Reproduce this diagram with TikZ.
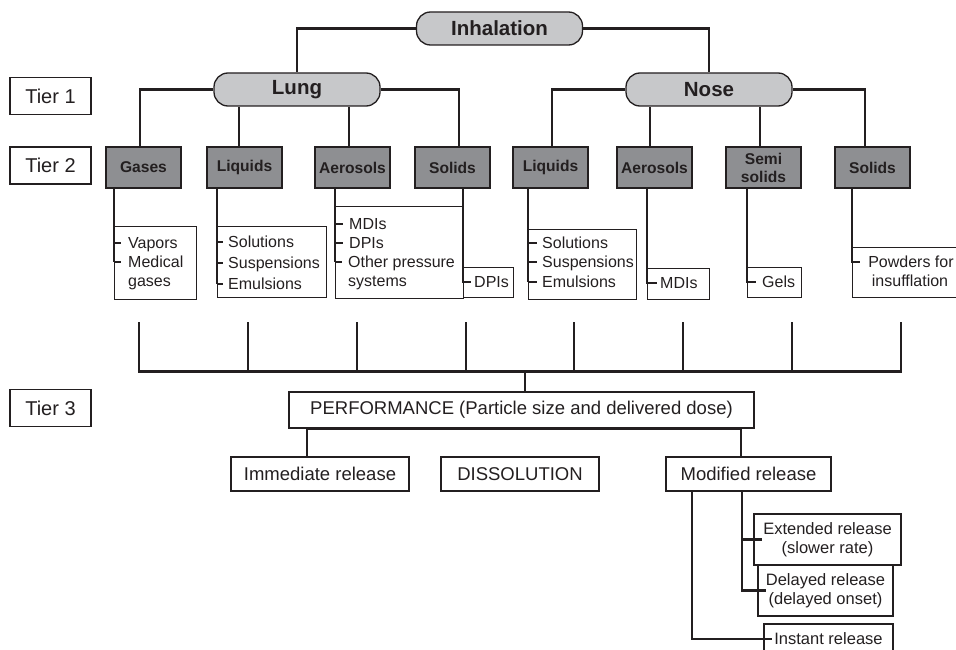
\documentclass[tikz,border=0pt]{standalone}
\usepackage{fontspec}
\setmainfont{Liberation Sans}
\usetikzlibrary{calc}
\definecolor{ink}{HTML}{231F20}
\definecolor{pillgray}{HTML}{C7C8CA}
\definecolor{boxgray}{HTML}{8E8F92}
\begin{document}
\begin{tikzpicture}[x=1pt,y=-1pt,
  pill/.style={draw=ink, line width=1.3pt, fill=pillgray, rounded corners=14pt, minimum width=166pt, minimum height=33pt, inner sep=0pt, font=\fontsize{20.5}{24}\selectfont\bfseries, text=ink},
  cat/.style={draw=ink, line width=1.2pt, fill=boxgray, minimum width=75pt, minimum height=41pt, inner sep=0pt, font=\fontsize{15.6}{18}\selectfont\bfseries, text=ink, align=center},
  tier/.style={draw=ink, line width=1.2pt, minimum width=81pt, minimum height=37pt, inner sep=0pt, font=\fontsize{20}{24}\selectfont, text=ink},
  sub/.style={draw=ink, line width=1.1pt, inner sep=0pt, anchor=north west},
  item/.style={anchor=west, inner sep=0pt, text height=12pt, text depth=1pt, font=\fontsize{16}{19}\selectfont, text=ink},
  conn/.style={draw=ink, line width=2.5pt},
  busline/.style={draw=ink, line width=3pt},
  perf/.style={draw=ink, line width=1.3pt, inner sep=0pt, font=\fontsize{18.5}{22}\selectfont, text=ink},
  rel/.style={draw=ink, line width=1.3pt, inner sep=0pt, font=\fontsize{16.5}{19}\selectfont, text=ink, align=center},
]
\useasboundingbox (0,0) rectangle (956,650);

% Tier labels
\node[tier] (t1) at (50.5,96) {Tier 1};
\node[tier] (t2) at (50.5,165.5) {Tier 2};
\node[tier] (t3) at (50.5,408) {Tier 3};

% tree connectors (drawn first so boxes sit on top)
\node[pill] (inh) at (499.5,28.5) {Inhalation};
\node[pill] (lung) at (297,89.5) {Lung};
\node[pill] (nose) at (709,89.5) {Nose};

\node[cat] (gas) at (143.5,167.5) {Gases};
\node[cat] (lliq) at (244.5,167.5) {Liquids};
\node[cat] (laer) at (352.5,167.5) {Aerosols};
\node[cat] (lsol) at (452.5,167.5) {Solids};
\node[cat] (nliq) at (550.5,167.5) {Liquids};
\node[cat] (naer) at (654.5,167.5) {Aerosols};
\node[cat] (semi) at (763.5,167.5) {Semi\\solids};
\node[cat] (nsol) at (872.5,167.5) {Solids};

\draw[conn] (inh.west) -| (lung.north);
\draw[conn] (inh.east) -| (nose.north);
\draw[conn] (lung.west) -| ([xshift=-3.5pt]gas.north);
\draw[conn] (lung.east) -| ([xshift=6.5pt]lsol.north);
\draw[conn] ([xshift=-5.5pt]lliq.north) -- ([xshift=-5.5pt]lliq.north |- lung.south);
\draw[conn] ([xshift=-3.5pt]laer.north) -- ([xshift=-3.5pt]laer.north |- lung.south);
\draw[conn] (nose.west) -| ([xshift=1.5pt]nliq.north);
\draw[conn] (nose.east) -| ([xshift=-7.5pt]nsol.north);
\draw[conn] ([xshift=-4.5pt]naer.north) -- ([xshift=-4.5pt]naer.north |- nose.south);
\draw[conn] ([xshift=-3.5pt]semi.north) -- ([xshift=-3.5pt]semi.north |- nose.south);

% sub boxes
\node[sub, minimum width=82pt, minimum height=73pt] (gsub) at (114,226) {};
\node[item] (g1) at (128,243) {Vapors};
\node[item] (g2) at (128,262) {Medical};
\node[item] (g3) at (128,281) {gases};
\draw[conn] (gas.south -| gsub.west) -- (gsub.west |- g2.west);
\draw[conn] (gsub.west |- g1.west) -- ++(7,0);
\draw[conn] (gsub.west |- g2.west) -- ++(7,0);

\node[sub, minimum width=109pt, minimum height=71pt] (lsub) at (217,226) {};
\node[item] (l1) at (228,242) {Solutions};
\node[item] (l2) at (228,263) {Suspensions};
\node[item] (l3) at (228,284) {Emulsions};
\draw[conn] (lliq.south -| lsub.west) -- (lsub.west |- l3.west);
\draw[conn] (lsub.west |- l1.west) -- ++(6,0);
\draw[conn] (lsub.west |- l2.west) -- ++(6,0);
\draw[conn] (lsub.west |- l3.west) -- ++(6,0);

\node[sub, minimum width=128pt, minimum height=92pt] (asub) at (335,206) {};
\node[item] (a1) at (349,224) {MDIs};
\node[item] (a2) at (349,243) {DPIs};
\node[item] (a3) at (348,262) {Other pressure};
\node[item] (a4) at (348,281) {systems};
\draw[conn] (laer.south -| asub.west) -- (asub.west |- a3.west);
\draw[conn] (asub.west |- a1.west) -- ++(8,0);
\draw[conn] (asub.west |- a2.west) -- ++(8,0);
\draw[conn] (asub.west |- a3.west) -- ++(7,0);

\node[sub, minimum width=50pt, minimum height=30pt] (dsub) at (463,267) {};
\node[item] (d1) at (474,282) {DPIs};
\draw[conn] (lsol.south -| dsub.west) -- (dsub.west |- d1.west) -- ++(8,0);

\node[sub, minimum width=108pt, minimum height=70pt] (nlsub) at (528,229) {};
\node[item] (n1) at (542,243) {Solutions};
\node[item] (n2) at (542,262) {Suspensions};
\node[item] (n3) at (542,282) {Emulsions};
\draw[conn] (nliq.south -| nlsub.west) -- (nlsub.west |- n3.west);
\draw[conn] (nlsub.west |- n1.west) -- ++(9,0);
\draw[conn] (nlsub.west |- n2.west) -- ++(9,0);
\draw[conn] (nlsub.west |- n3.west) -- ++(9,0);

\node[sub, minimum width=62pt, minimum height=31pt] (nasub) at (647,268) {};
\node[item] (m1) at (660,283) {MDIs};
\draw[conn] (naer.south -| nasub.west) -- (nasub.west |- m1.west) -- ++(10,0);

\node[sub, minimum width=54pt, minimum height=30pt] (ssub) at (747,267) {};
\node[item] (s1) at (762,282) {Gels};
\draw[conn] (semi.south -| ssub.west) -- (ssub.west |- s1.west) -- ++(9,0);

\node[sub, minimum width=114pt, minimum height=50pt] (nssub) at (852,247) {};
\node[item, anchor=center] (p1) at (911,262) {Powders for};
\node[item, anchor=center] (p2) at (910,281) {insufflation};
\draw[conn] (nsol.south -| nssub.west) -- (nssub.west |- p1.west) -- ++(8,0);

% bus
\foreach \x [count=\i] in {139,248,357,466,574,683,792,901} {
  \coordinate (bt\i) at (\x,322);
  \coordinate (bb\i) at (\x,371);
  \draw[conn] (bt\i) -- (bb\i);
}
\draw[busline] ([xshift=-1.2pt]bb1) -- ([xshift=1.2pt]bb8);

% Tier 3
\node[perf, minimum width=465pt, minimum height=36pt] (perf) at (521.5,410) {PERFORMANCE (Particle size and delivered dose)};
\coordinate (busmid) at (525,371);
\draw[conn] (busmid) -- (busmid |- perf.north);

\node[perf, minimum width=178pt, minimum height=34pt] (imm) at (320,474) {Immediate release};
\node[perf, minimum width=158pt, minimum height=34pt] (diss) at (520,474) {DISSOLUTION};
\node[perf, minimum width=165pt, minimum height=34pt] (mod) at (748.5,474) {Modified release};

\coordinate (pl) at (307,429);
\coordinate (pr) at (741,429);
\draw[conn] (imm.north -| pl) -- (pl) -- (pr) -- (mod.north -| pr);

\node[rel, minimum width=147pt, minimum height=51pt] (ext) at (827.5,539.5) {Extended release\\(slower rate)};
\node[rel, minimum width=135pt, minimum height=51pt] (del) at (825.5,590.5) {Delayed release\\(delayed onset)};
\node[rel, minimum width=129pt, minimum height=30pt] (inst) at (828.5,639) {Instant release};

\coordinate (ml) at (692,490);
\coordinate (mr) at (742,490);
\draw[conn] (ml) -- (ml |- inst.west) -- ([xshift=9pt]inst.west);
\draw[conn] (mr) -- (mr |- del.west) -- ([xshift=9pt]del.west);
\draw[conn] (mr |- ext.west) -- ([xshift=9pt]ext.west);
\end{tikzpicture}
\end{document}
